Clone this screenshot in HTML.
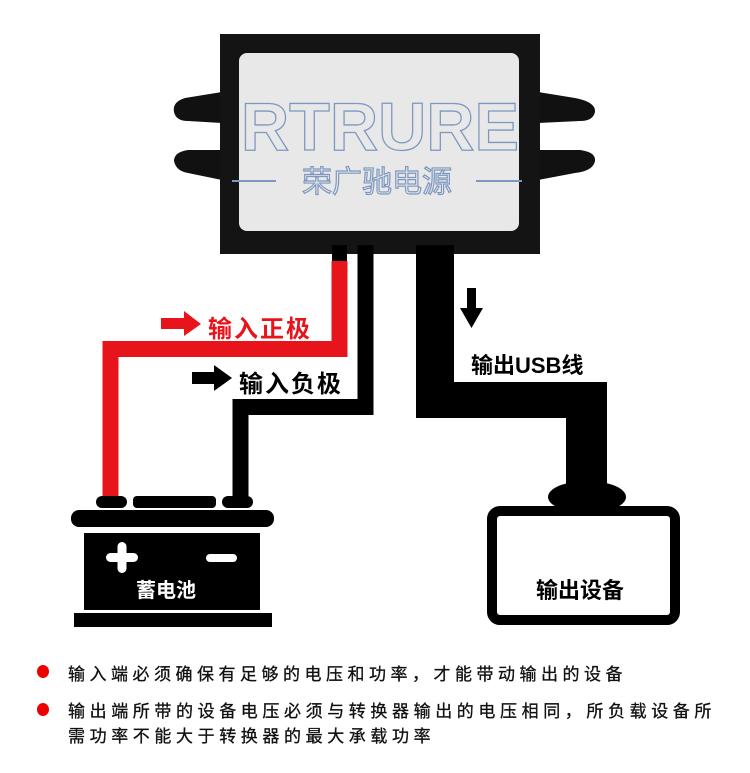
<!DOCTYPE html>
<html><head><meta charset="utf-8"><style>
body{margin:0;background:#fff;width:750px;height:773px;overflow:hidden;position:relative;font-family:"Liberation Sans","Noto Sans CJK SC",sans-serif}
.a{position:absolute}
.t{position:absolute;white-space:nowrap;font-weight:bold}
.b{position:absolute;left:68px;font-size:17px;letter-spacing:4.5px;color:#111;white-space:nowrap;-webkit-text-stroke:0.3px #111}
.d{position:absolute;left:37px;width:12px;height:13px;border-radius:50%;background:#e00}
</style></head><body>
<svg class="a" style="left:0;top:0" width="750" height="773">
 <path d="M222,92 L185,98 Q172,102 174,112 Q176,121 188,121 L222,123 Z" fill="#111"/>
 <path d="M222,150 L188,150 Q174,152 174,161 Q176,171 188,173 L222,180 Z" fill="#111"/>
 <path d="M538,92 L575,98 Q596,102 595,112 Q593,121 580,121 L538,123 Z" fill="#111"/>
 <path d="M538,150 L580,150 Q596,152 595,161 Q593,171 575,173 L538,180 Z" fill="#111"/>
 <rect x="220" y="34" width="320" height="220" fill="#141414"/>
 <rect x="239" y="53" width="280" height="178" rx="8" fill="#e8e8e8"/>
 <text x="380" y="150" text-anchor="middle" font-family="Liberation Sans" font-weight="bold" font-size="68" fill="none" stroke="#7d98c0" stroke-width="1.3" textLength="278" lengthAdjust="spacingAndGlyphs">RTRURE</text>
 <text x="377" y="192" text-anchor="middle" font-family="Noto Sans CJK SC" font-size="30" fill="none" stroke="#7d98c0" stroke-width="1.2">荣广驰电源</text>
 <line x1="232" y1="181" x2="276" y2="181" stroke="#7d98c0" stroke-width="2"/>
 <line x1="476" y1="181" x2="522" y2="181" stroke="#7d98c0" stroke-width="2"/>
 <rect x="332" y="245" width="15" height="16" fill="#000"/>
 <path d="M339.5,261 V349 H110.5 V497" fill="none" stroke="#e8141c" stroke-width="16"/>
 <path d="M365.5,245 V407 H240.5 V497" fill="none" stroke="#000" stroke-width="16"/>
 <path d="M416,245 H454 V382 H607 V490 H566 V418 H416 Z" fill="#000"/>
 <ellipse cx="587" cy="497" rx="39" ry="16" fill="#000"/>
 <path d="M161,318 H184 V311 L201,324 L184,336 V329 H161 Z" fill="#e8141c"/>
 <path d="M192,372 H214 V365 L232,378 L214,391 V384 H192 Z" fill="#000"/>
 <path d="M467,288 H476 V308 H483 L471.5,328 L460,308 H467 Z" fill="#000"/>
 <rect x="96" y="496" width="31" height="12" rx="6" fill="#000"/>
 <rect x="133" y="496" width="83" height="12" rx="4" fill="#000"/>
 <rect x="222" y="496" width="31" height="12" rx="6" fill="#000"/>
 <rect x="71" y="510" width="203" height="17" rx="8" fill="#000"/>
 <rect x="84" y="533" width="176" height="77" fill="#000"/>
 <rect x="74" y="613" width="198" height="14" fill="#000"/>
 <rect x="106" y="553" width="32" height="9" rx="4.5" fill="#fff"/>
 <rect x="117.5" y="542" width="9" height="31" rx="4.5" fill="#fff"/>
 <rect x="206" y="554" width="31" height="8" rx="4" fill="#fff"/>
 <rect x="492" y="511" width="183" height="109" rx="8" fill="#fff" stroke="#000" stroke-width="10"/>
</svg>
<div class="t" style="left:208px;top:309px;font-size:24px;color:#e8141c;letter-spacing:2px">输入正极</div>
<div class="t" style="left:239px;top:364px;font-size:24px;color:#000;letter-spacing:2px">输入负极</div>
<div class="t" style="left:471px;top:348px;font-size:22px;color:#000">输出USB线</div>
<div class="t" style="left:136px;top:574px;font-size:20px;color:#fff">蓄电池</div>
<div class="t" style="left:536px;top:573px;font-size:22px;color:#000">输出设备</div>
<div class="d" style="top:665px"></div>
<div class="b" style="top:660px">输入端必须确保有足够的电压和功率，才能带动输出的设备</div>
<div class="d" style="top:703px"></div>
<div class="b" style="top:697px;letter-spacing:4.6px">输出端所带的设备电压必须与转换器输出的电压相同，所负载设备所</div>
<div class="b" style="top:722px;letter-spacing:4.6px">需功率不能大于转换器的最大承载功率</div>
</body></html>
